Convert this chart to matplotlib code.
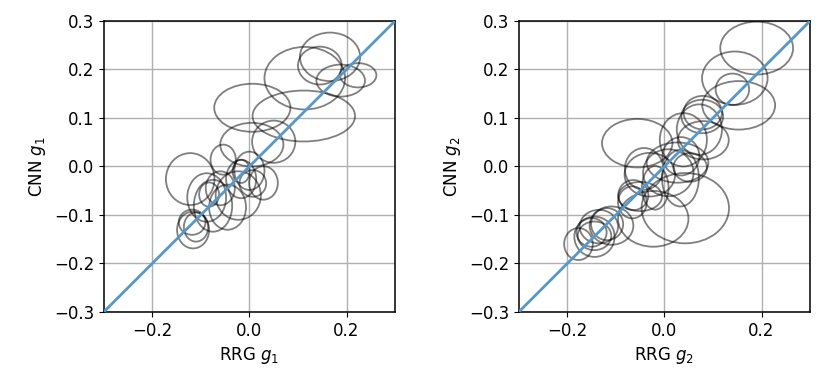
import numpy as np
import matplotlib
matplotlib.use("Agg")
import matplotlib.pyplot as plt
from matplotlib.patches import Ellipse

# ---- panel 1: g1 (RRG x, CNN y, widths/heights = error ellipse extents) ----
g1_rrg = [0.166, 0.145, 0.114, 0.188, 0.224, 0.006, 0.112, 0.050, 0.005,
          -0.122, -0.054, 0.000, 0.029, -0.116, -0.118, -0.110,
          -0.088, -0.075, -0.045, -0.023, -0.017, -0.017, 0.007, -0.083, -0.060]
g1_cnn = [0.226, 0.208, 0.182, 0.177, 0.188, 0.121, 0.104, 0.051, 0.045,
          -0.026, 0.014, -0.009, -0.034, -0.131, -0.115, -0.125,
          -0.064, -0.081, -0.084, -0.060, -0.026, -0.010, -0.035, -0.058, -0.045]
g1_w = [0.124, 0.090, 0.166, 0.100, 0.075, 0.157, 0.211, 0.089, 0.130,
        0.100, 0.052, 0.062, 0.059, 0.066, 0.055, 0.050,
        0.080, 0.079, 0.076, 0.093, 0.062, 0.035, 0.055, 0.041, 0.060]
g1_h = [0.100, 0.078, 0.129, 0.066, 0.050, 0.099, 0.105, 0.087, 0.090,
        0.107, 0.062, 0.079, 0.069, 0.076, 0.052, 0.060,
        0.100, 0.107, 0.093, 0.100, 0.079, 0.048, 0.055, 0.050, 0.070]

# ---- panel 2: g2 ----
g2_rrg = [0.190, 0.145, 0.140, 0.153, 0.079, -0.056,
          0.039, 0.072, 0.078, 0.008, -0.030, 0.027, 0.034, -0.050, -0.042,
          0.053, 0.033, -0.019, 0.080, -0.064,
          0.043, -0.023,
          -0.177, -0.144, -0.144, -0.150, -0.135, -0.118, -0.109, -0.066]
g2_cnn = [0.244, 0.182, 0.159, 0.126, 0.111, 0.048,
          0.055, 0.076, 0.103, -0.013, -0.017, 0.008, 0.021, -0.062, -0.005,
          -0.002, -0.024, -0.044, 0.054, -0.059,
          -0.086, -0.108,
          -0.160, -0.145, -0.143, -0.136, -0.124, -0.119, -0.122, -0.074]
g2_w = [0.150, 0.135, 0.069, 0.150, 0.079, 0.145,
        0.097, 0.093, 0.086, 0.104, 0.104, 0.127, 0.076, 0.090, 0.079,
        0.069, 0.076, 0.055, 0.105, 0.062,
        0.180, 0.145,
        0.059, 0.083, 0.069, 0.062, 0.079, 0.066, 0.090, 0.059]
g2_h = [0.109, 0.110, 0.065, 0.100, 0.069, 0.100,
        0.110, 0.104, 0.069, 0.097, 0.090, 0.083, 0.079, 0.060, 0.086,
        0.059, 0.117, 0.090, 0.079, 0.062,
        0.145, 0.115,
        0.066, 0.083, 0.059, 0.059, 0.069, 0.066, 0.079, 0.066]

panels = [
    (g1_rrg, g1_cnn, g1_w, g1_h, "RRG $g_1$", "CNN $g_1$"),
    (g2_rrg, g2_cnn, g2_w, g2_h, "RRG $g_2$", "CNN $g_2$"),
]

plt.rcParams['font.size'] = 12
fig = plt.figure(figsize=(8.3, 3.88), dpi=100)
lefts = [0.125, 0.625]

for left, (xs, ys, ws, hs, xl, yl) in zip(lefts, panels):
    ax = fig.add_axes([left, 0.196, 0.351, 0.75])
    ax.set_xlim(-0.3, 0.3); ax.set_ylim(-0.3, 0.3)
    ax.grid(True, color='#b0b0b0', lw=1.0)
    ax.set_axisbelow(True)
    for s in ax.spines.values():
        s.set_linewidth(1.1)
    for x, y, w, h in zip(xs, ys, ws, hs):
        ax.add_patch(Ellipse((x, y), w, h, fc='none', ec='k', alpha=0.5, lw=1.3))
    lim = np.array([-0.3, 0.3])
    ax.plot(lim, lim, color='#5499c9', lw=2.0, zorder=5)
    ax.set_xticks([-0.2, 0.0, 0.2])
    ax.set_yticks([-0.3, -0.2, -0.1, 0.0, 0.1, 0.2, 0.3])
    ax.set_xlabel(xl); ax.set_ylabel(yl)

fig.savefig("out.png", dpi=100)
plt.close(fig)
